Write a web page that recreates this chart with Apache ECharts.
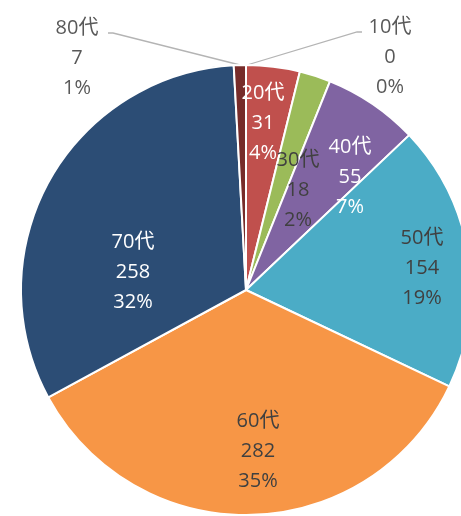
<!DOCTYPE html>
<html>
<head>
<meta charset="utf-8">
<script src="https://cdn.jsdelivr.net/npm/echarts@6/dist/echarts.min.js"></script>
<style>
  html, body { margin: 0; padding: 0; background: #fff; }
  #chart { width: 461px; height: 516px; }
</style>
</head>
<body>
<div id="chart"></div>
<script>
// 年代別の人数
const categories = ['10代', '20代', '30代', '40代', '50代', '60代', '70代', '80代'];
const counts = [0, 31, 18, 55, 154, 282, 258, 7];
const sliceColors = ['#4f81bd', '#c0504d', '#9bbb59', '#8064a2', '#4bacc6', '#f79646', '#2c4d75', '#772c2a'];
const labelColors = ['#595959', '#ffffff', '#404040', '#ffffff', '#404040', '#404040', '#ffffff', '#595959'];
const outsideLabel = [true, false, false, false, false, false, false, true];

// label centres (middle line), px
const labelPos = [[390, 57], [263, 123], [298, 190], [350, 177], [422, 268], [258, 451], [133, 272], [77, 58]];
const leaderLines = {
    0: [[362, 32], [357, 32], [247, 65]],
    7: [[108, 33], [113, 33], [240, 65]]
};

const FONT = "'Open Sans', 'Noto Sans CJK JP', sans-serif";

const chart = echarts.init(document.getElementById('chart'));

const seriesData = categories.map((name, i) => ({
    name,
    value: counts[i],
    itemStyle: { color: sliceColors[i] },
    label: {
        position: outsideLabel[i] ? 'outside' : 'inside',
        color: labelColors[i]
    },
    labelLine: { show: outsideLabel[i] }
}));

chart.setOption({
    backgroundColor: '#ffffff',
    animation: false,
    series: [{
        type: 'pie',
        center: [246, 290],
        radius: [0, 225],
        startAngle: 90,
        clockwise: true,
        percentPrecision: 0,
        avoidLabelOverlap: false,
        minShowLabelAngle: 0,
        itemStyle: { borderColor: '#ffffff', borderWidth: 2 },
        label: {
            show: true,
            formatter: '{b}\n{c}\n{d}%',
            fontFamily: FONT,
            fontSize: 20,
            lineHeight: 30,
            align: 'center'
        },
        labelLine: {
            lineStyle: { color: '#b4b4b4', width: 1.3 }
        },
        labelLayout: (params) => {
            const i = params.dataIndex;
            const out = {
                x: labelPos[i][0],
                y: labelPos[i][1],
                align: 'center',
                verticalAlign: 'middle'
            };
            if (leaderLines[i]) out.labelLinePoints = leaderLines[i];
            return out;
        },
        data: seriesData
    }]
});
</script>
</body>
</html>
